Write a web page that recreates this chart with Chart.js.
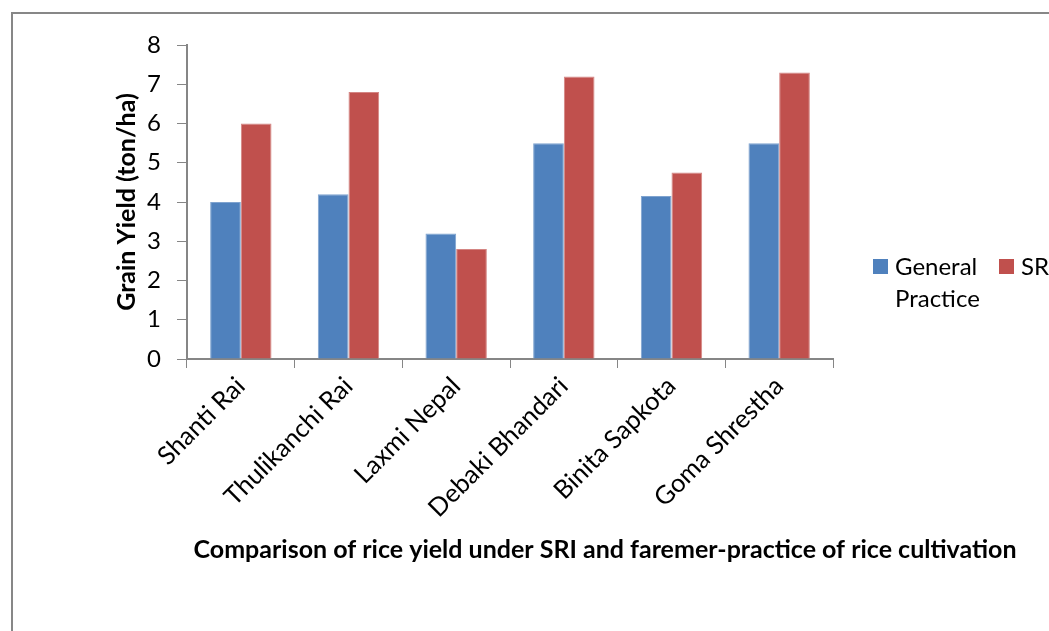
<!DOCTYPE html>
<html>
<head>
<meta charset="utf-8">
<title>Rice yield comparison</title>
<script src="https://cdn.jsdelivr.net/npm/chart.js@4.4.1/dist/chart.umd.min.js"></script>
<style>
  body { margin: 0; background: #fff; overflow: hidden; }
  #wrap { position: relative; width: 1049px; height: 631px; }
  #frame {
    position: absolute; left: 11px; top: 12px; width: 1100px; height: 700px;
    border-left: 2px solid #878787; border-top: 2px solid #878787;
  }
  canvas { position: absolute; left: 0; top: 0; }
</style>
</head>
<body>
<div id="wrap">
  <div id="frame"></div>
  <canvas id="yieldChart" width="1049" height="631"></canvas>
</div>
<script>
const farmers = ['Shanti Rai', 'Thulikanchi Rai', 'Laxmi Nepal', 'Debaki Bhandari', 'Binita Sapkota', 'Goma Shrestha'];
const generalPractice = [4.0, 4.2, 3.2, 5.5, 4.15, 5.5];
const sri = [6.0, 6.8, 2.8, 7.2, 4.75, 7.3];
const seriesNames = ['General Practice', 'SRI'];
const yMin = 0;
const yMax = 8;
const yStep = 1;
const yTitle = 'Grain Yield (ton/ha)';
const chartTitle = 'Comparison of rice yield under SRI and faremer-practice of rice cultivation';

const FONT = 'Lato, Carlito, Calibri, sans-serif';
const AXIS_GREY = '#868686';

// legend drawn to the right of the plot, items side by side, long names wrapped
const sideLegend = {
  id: 'sideLegend',
  afterDraw(chart) {
    const ctx = chart.ctx;
    const items = [{ x: 873, maxW: 100 }, { x: 999, maxW: 100 }];
    ctx.save();
    ctx.font = '24px ' + FONT;
    ctx.textBaseline = 'middle';
    chart.data.datasets.forEach((ds, i) => {
      const it = items[i];
      ctx.fillStyle = ds.backgroundColor;
      ctx.fillRect(it.x, 259, 15, 15);
      // word wrap
      const words = ds.label.split(' ');
      const lines = [];
      let cur = '';
      words.forEach(w => {
        const test = cur ? cur + ' ' + w : w;
        if (cur && ctx.measureText(test).width > it.maxW) { lines.push(cur); cur = w; }
        else cur = test;
      });
      lines.push(cur);
      ctx.fillStyle = '#000';
      lines.forEach((ln, k) => ctx.fillText(ln, it.x + 22, 267 + k * 32));
    });
    ctx.restore();
  }
};

const bottomTitle = {
  id: 'bottomTitle',
  afterDraw(chart) {
    const ctx = chart.ctx;
    ctx.save();
    ctx.font = 'bold 25px ' + FONT;
    ctx.fillStyle = '#000';
    ctx.textAlign = 'center';
    ctx.textBaseline = 'middle';
    ctx.fillText(chartTitle, 605, 550);
    ctx.restore();
  }
};

const ctx = document.getElementById('yieldChart').getContext('2d');
new Chart(ctx, {
  type: 'bar',
  data: {
    labels: farmers,
    datasets: [
      {
        label: seriesNames[0],
        data: generalPractice,
        backgroundColor: '#4F81BD',
        borderColor: '#7fa3cf',
        borderWidth: 1,
        categoryPercentage: 0.57,
        barPercentage: 1.0
      },
      {
        label: seriesNames[1],
        data: sri,
        backgroundColor: '#C0504D',
        borderColor: '#d48583',
        borderWidth: 1,
        categoryPercentage: 0.57,
        barPercentage: 1.0
      }
    ]
  },
  options: {
    responsive: false,
    animation: false,
    layout: { padding: { left: 105, top: 45, right: 216, bottom: 0 } },
    plugins: {
      legend: { display: false },
      tooltip: { enabled: false }
    },
    scales: {
      x: {
        grid: {
          drawOnChartArea: false,
          drawTicks: true,
          tickLength: 9,
          color: AXIS_GREY
        },
        border: { color: AXIS_GREY, width: 2 },
        ticks: {
          color: '#000',
          font: { family: FONT, size: 25.5 },
          minRotation: 45,
          maxRotation: 45,
          padding: 3
        },
        afterFit: function(scale) { scale.height = 631 - 359; }
      },
      y: {
        min: yMin,
        max: yMax,
        grid: {
          drawOnChartArea: false,
          drawTicks: true,
          tickLength: 10,
          color: AXIS_GREY
        },
        border: { color: AXIS_GREY, width: 2 },
        ticks: {
          stepSize: yStep,
          color: '#000',
          font: { family: FONT, size: 24 },
          padding: 16
        },
        title: {
          display: true,
          text: yTitle,
          color: '#000',
          font: { family: FONT, size: 25, weight: 'bold' },
          padding: { top: 7, bottom: 0 }
        },
        afterFit: function(scale) { scale.width = 187 - 105; }
      }
    }
  },
  plugins: [sideLegend, bottomTitle]
});
</script>
</body>
</html>
